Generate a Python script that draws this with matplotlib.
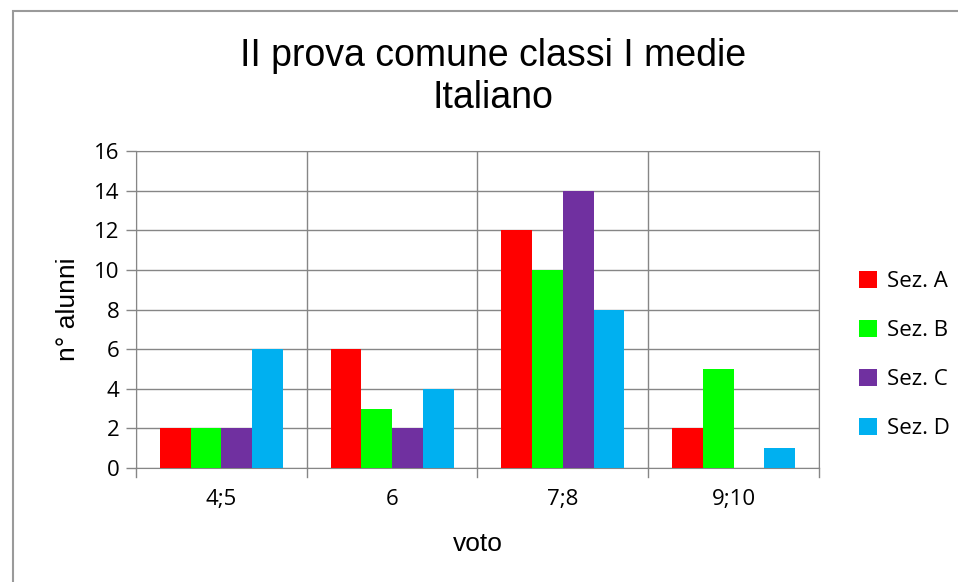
import matplotlib.pyplot as plt
import numpy as np
from matplotlib.patches import Rectangle

categories = ["4;5", "6", "7;8", "9;10"]
series_names = ["Sez. A", "Sez. B", "Sez. C", "Sez. D"]
sez_a = [2, 6, 12, 2]
sez_b = [2, 3, 10, 5]
sez_c = [2, 2, 14, 0]
sez_d = [6, 4, 8, 1]
colors = ["#FF0000", "#00FF00", "#7030A0", "#00B0F0"]
y_ticks = [0, 2, 4, 6, 8, 10, 12, 14, 16]

grid_col = "#868686"
tick_font = ["Open Sans", "DejaVu Sans"]
label_font = ["Liberation Sans", "DejaVu Sans"]

fig = plt.figure(figsize=(9.58, 5.82), dpi=100)

# outer chart frame (cut off at right and bottom)
fig.patches.append(Rectangle((13 / 958, -0.01), 1.0, 1 - 11 / 582 + 0.01,
                             transform=fig.transFigure, fill=False,
                             edgecolor="#9A9A9A", linewidth=1.5))

ax = fig.add_axes([136 / 958, 1 - 468 / 582, 683 / 958, 317 / 582])

x = np.arange(len(categories))
width = 0.18
for i, (vals, name, col) in enumerate(zip([sez_a, sez_b, sez_c, sez_d], series_names, colors)):
    ax.bar(x + (i - 1.5) * width, vals, width, color=col, label=name, zorder=3)

ax.set_xlim(-0.5, len(categories) - 0.5)
ax.set_ylim(0, 16)
ax.set_yticks(y_ticks)
ax.set_xticks(x)
ax.set_xticklabels(categories)

# gridlines: horizontal at y ticks, vertical at category boundaries
for y in y_ticks:
    ax.axhline(y, color=grid_col, linewidth=1, zorder=1)
for b in np.arange(-0.5, len(categories), 1.0):
    ax.axvline(b, color=grid_col, linewidth=1, zorder=1)
    ax.plot([b, b], [0, -0.028], transform=ax.get_xaxis_transform(),
            color=grid_col, linewidth=1, clip_on=False)

for s in ax.spines.values():
    s.set_color(grid_col)
ax.tick_params(axis="x", length=0, pad=15)
ax.tick_params(axis="y", length=7, color=grid_col, width=1, pad=5)
for lab in ax.get_xticklabels() + ax.get_yticklabels():
    lab.set_fontfamily(tick_font)
    lab.set_fontsize(16)

ax.set_xlabel("voto", fontsize=19, family=label_font, labelpad=16)
ax.set_ylabel("n° alunni", fontsize=19, family=label_font, labelpad=10)

fig.text(493 / 958, 1 - 77 / 582, "II prova comune classi I medie\nItaliano",
         ha="center", va="center", fontsize=27, family=label_font, linespacing=1.18)

ax.legend(loc="center left", bbox_to_anchor=(1.03, 0.0, 0.3, 0.712), frameon=False,
          prop={"family": tick_font, "size": 16}, handlelength=0.8, handleheight=0.8,
          labelspacing=1.25, handletextpad=0.45)

fig.savefig("out.png", dpi=100)
